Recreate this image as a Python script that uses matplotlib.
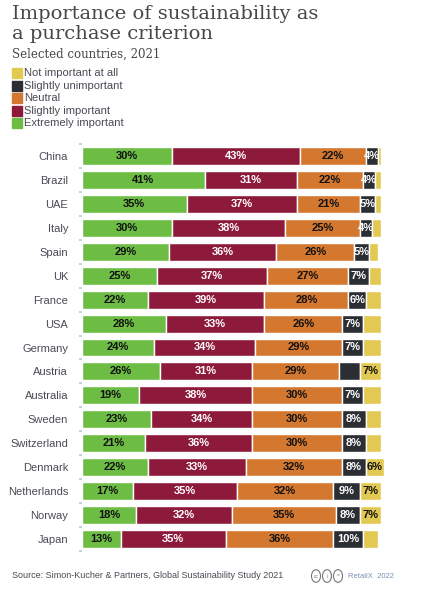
import numpy as np
import matplotlib
matplotlib.use("Agg")
import matplotlib.pyplot as plt
from matplotlib.patches import Rectangle, Circle

countries = ["China", "Brazil", "UAE", "Italy", "Spain", "UK", "France", "USA",
             "Germany", "Austria", "Australia", "Sweden", "Switzerland",
             "Denmark", "Netherlands", "Norway", "Japan"]

extremely = [30, 41, 35, 30, 29, 25, 22, 28, 24, 26, 19, 23, 21, 22, 17, 18, 13]
slightly_imp = [43, 31, 37, 38, 36, 37, 39, 33, 34, 31, 38, 34, 36, 33, 35, 32, 35]
neutral = [22, 22, 21, 25, 26, 27, 28, 26, 29, 29, 30, 30, 30, 32, 32, 35, 36]
slightly_unimp = [4, 4, 5, 4, 5, 7, 6, 7, 7, 7, 7, 8, 8, 8, 9, 8, 10]
not_imp = [1, 2, 2, 3, 3, 4, 5, 6, 6, 7, 6, 5, 5, 6, 7, 7, 5]

# which labels are printed in the original (True = shown)
show_unimp = [True] * 9 + [False] + [True] * 7
show_notimp = [False] * 9 + [True] + [False] * 3 + [True, True, True, False]

series = [
    ("Extremely important", extremely, "#6dbd45", "#111111"),
    ("Slightly important", slightly_imp, "#8e1a3b", "white"),
    ("Neutral", neutral, "#d4772f", "#111111"),
    ("Slightly unimportant", slightly_unimp, "#2b2f33", "white"),
    ("Not important at all", not_imp, "#e2c952", "#111111"),
]
legend_order = ["Not important at all", "Slightly unimportant", "Neutral",
                "Slightly important", "Extremely important"]

W, H = 424, 596
fig = plt.figure(figsize=(W / 100, H / 100), dpi=100)

# axes: 0% at x=82px, 100% at x=381px; rows from y=144 to 551
xmax = 105
ax = fig.add_axes([82 / W, (H - 551) / H, 299 * xmax / 100 / W, 407 / H])
y = np.arange(len(countries))
left = np.zeros(len(countries))
for name, vals, color, tcol in series:
    vals = np.array(vals, dtype=float)
    bars = ax.barh(y, vals, left=left, height=0.75, color=color,
                   edgecolor="white", linewidth=1.0, label=name)
    for i, (b, v) in enumerate(zip(bars, vals)):
        show = True
        if name == "Slightly unimportant":
            show = show_unimp[i]
        elif name == "Not important at all":
            show = show_notimp[i]
        if show:
            ax.text(left[i] + v / 2, y[i], f"{int(v)}%", ha="center", va="center",
                    color=tcol, fontsize=8, fontweight="bold",
                    family="Liberation Sans")
    left += vals

ax.set_xlim(0, xmax)
ax.set_ylim(len(countries) - 0.5, -0.5)
for s in ax.spines.values():
    s.set_visible(False)
ax.set_xticks([])
ax.set_yticks(y)
ax.set_yticklabels(countries, fontsize=8, color="#4a4a55", family="Liberation Sans")
ax.tick_params(axis="y", length=0, pad=10)
ax.set_yticks(np.arange(-0.5, len(countries)), minor=True)
ax.tick_params(axis="y", which="minor", length=2, width=1.2, color="#b8c8e0")

# title block
title_kw = dict(ha="left", va="baseline", fontsize=14, color="#4a4646",
                family="DejaVu Serif")
fig.text(12 / W, 1 - 19 / H, "Importance of sustainability as", **title_kw)
fig.text(12 / W, 1 - 39 / H, "a purchase criterion", **title_kw)
fig.text(12 / W, 1 - 58 / H, "Selected countries, 2021", ha="left", va="baseline",
         fontsize=8.5, color="#4a4646", family="DejaVu Serif")

# legend
colors = {name: c for name, _, c, _ in series}
for k, name in enumerate(legend_order):
    yc = 73 + k * 12.6
    fig.patches.append(Rectangle((12 / W, 1 - (yc + 5) / H), 10 / W, 10 / H,
                                 transform=fig.transFigure, color=colors[name]))
    fig.text(24 / W, 1 - yc / H, name, ha="left", va="center", fontsize=8,
             color="#4a4a55", family="Liberation Sans")

# footer
fig.text(12 / W, 1 - 576 / H,
         "Source: Simon-Kucher & Partners, Global Sustainability Study 2021",
         ha="left", va="center", fontsize=6.5, color="#4a4a55", family="Liberation Sans")
for k, sym in enumerate(["cc", "i", "="]):
    cx = 316 + k * 11
    fig.patches.append(Circle((cx / W, 1 - 576 / H), 4.5 / W, transform=fig.transFigure,
                              fill=False, edgecolor="#777777", linewidth=0.8))
    fig.text(cx / W, 1 - 576 / H, sym, ha="center", va="center", fontsize=3.5,
             color="#777777", family="Liberation Sans")
fig.text(348 / W, 1 - 576 / H, "RetailX  2022", ha="left", va="center",
         fontsize=5.5, color="#7b8fb0", family="Liberation Sans")

fig.savefig("out.png", dpi=100)
